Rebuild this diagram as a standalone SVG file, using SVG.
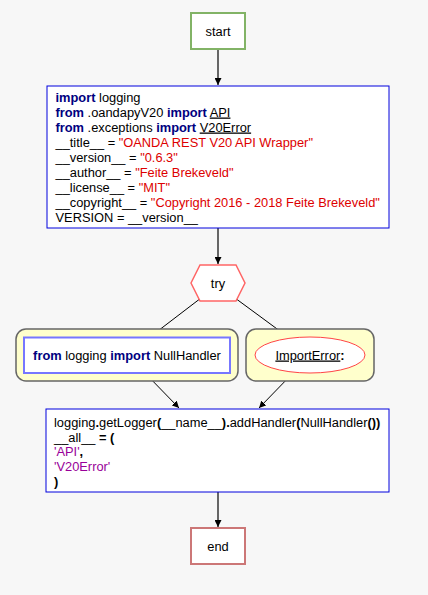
<svg xmlns="http://www.w3.org/2000/svg" width="428" height="595" viewBox="0 0 428 595">
<defs>
<style>
text{font-family:"Liberation Sans",Arial,sans-serif;font-size:12.85px;fill:#000}
.k{font-weight:bold;fill:#000080}
.s{fill:#dd0000}
.p{fill:#990099}
.b{font-weight:bold}
.u{text-decoration:underline}
.thick{stroke:#666;stroke-width:2;fill:none}
.thin{stroke:#000;stroke-width:1;fill:none}
</style>
<marker id="ah" viewBox="0 0 10 10" refX="10" refY="5" markerWidth="7" markerHeight="7" markerUnits="userSpaceOnUse" orient="auto"><path d="M0,0L10,5L0,10z" fill="#000"/></marker>
</defs>
<rect width="428" height="595" fill="#f7f7f7"/>
<g id="connectors">
<line class="thick" x1="218" y1="49" x2="218" y2="85" marker-end="url(#ah)"/>
<line class="thick" x1="218" y1="228" x2="218" y2="264" marker-end="url(#ah)"/>
<line class="thin" x1="201" y1="298" x2="150" y2="337" marker-end="url(#ah)"/>
<line class="thin" x1="235" y1="298" x2="288" y2="337" marker-end="url(#ah)"/>
<line class="thin" x1="144" y1="372" x2="179" y2="408" marker-end="url(#ah)"/>
<line class="thin" x1="293" y1="373" x2="259" y2="408" marker-end="url(#ah)"/>
<line class="thick" x1="218" y1="492" x2="218" y2="527" marker-end="url(#ah)"/>
</g>
<g id="start">
<rect x="191" y="13" width="54" height="36" fill="#fff" stroke="#82b366" stroke-width="2"/>
<text x="218" y="35.5" text-anchor="middle">start</text>
</g>
<g id="header">
<rect x="47" y="86" width="342" height="142" fill="#fff" stroke="#0000dd" stroke-width="1"/>
<text x="55.5" y="101.5" xml:space="preserve"><tspan class="k">import</tspan> logging</text>
<text x="55.5" y="116.5" xml:space="preserve"><tspan class="k">from</tspan> .oandapyV20 <tspan class="k">import</tspan> <tspan class="u">API</tspan></text>
<text x="55.5" y="131.5" xml:space="preserve"><tspan class="k">from</tspan> .exceptions <tspan class="k">import</tspan> <tspan class="u">V20Error</tspan></text>
<text x="55.5" y="146.5" xml:space="preserve">__title__ = <tspan class="s">"OANDA REST V20 API Wrapper"</tspan></text>
<text x="55.5" y="161.5" xml:space="preserve">__version__ = <tspan class="s">"0.6.3"</tspan></text>
<text x="55.5" y="176.5" xml:space="preserve">__author__ = <tspan class="s">"Feite Brekeveld"</tspan></text>
<text x="55.5" y="191.5" xml:space="preserve">__license__ = <tspan class="s">"MIT"</tspan></text>
<text x="55.5" y="206.5" xml:space="preserve">__copyright__ = <tspan class="s">"Copyright 2016 - 2018 Feite Brekeveld"</tspan></text>
<text x="55.5" y="221.5" xml:space="preserve">VERSION = __version__</text>
</g>
<g id="try">
<polygon points="191,283 200,265 236,265 245,283 236,301 200,301" fill="#fff" stroke="#ff6666" stroke-width="1.5"/>
<text x="218" y="287.5" text-anchor="middle">try</text>
</g>
<g id="tryBody">
<rect x="16" y="329" width="222" height="52" rx="10" fill="#ffffcc" stroke="#666" stroke-width="1.5"/>
<rect x="24" y="337.5" width="206" height="35.5" fill="#fff" stroke="#7777ff" stroke-width="2"/>
<text x="127" y="359.5" text-anchor="middle" xml:space="preserve"><tspan class="k">from</tspan> logging <tspan class="k">import</tspan> NullHandler</text>
</g>
<g id="except">
<rect x="246" y="329" width="128" height="52" rx="10" fill="#ffffcc" stroke="#666" stroke-width="1.5"/>
<ellipse cx="310" cy="355" rx="55" ry="18" fill="#fff" stroke="#ff4444" stroke-width="1"/>
<text x="310" y="359.5" text-anchor="middle"><tspan class="u">ImportError</tspan><tspan class="b">:</tspan></text>
</g>
<g id="footer">
<rect x="46" y="409" width="343" height="83" fill="#fff" stroke="#0000dd" stroke-width="1"/>
<text x="54" y="427" xml:space="preserve">logging<tspan class="b">.</tspan>getLogger<tspan class="b">(</tspan>__name__<tspan class="b">)</tspan><tspan class="b">.</tspan>addHandler<tspan class="b">(</tspan>NullHandler<tspan class="b">())</tspan></text>
<text x="54" y="441.7" xml:space="preserve">__all__ <tspan class="b">=</tspan> <tspan class="b">(</tspan></text>
<text x="54" y="456.4" xml:space="preserve"><tspan class="p">'API'</tspan><tspan class="b">,</tspan></text>
<text x="54" y="471.1" xml:space="preserve"><tspan class="p">'V20Error'</tspan></text>
<text x="54" y="485.8" class="b">)</text>
</g>
<g id="end">
<rect x="191" y="528" width="54" height="36" fill="#fff" stroke="#cc7777" stroke-width="2"/>
<text x="218" y="550.5" text-anchor="middle">end</text>
</g>
</svg>
